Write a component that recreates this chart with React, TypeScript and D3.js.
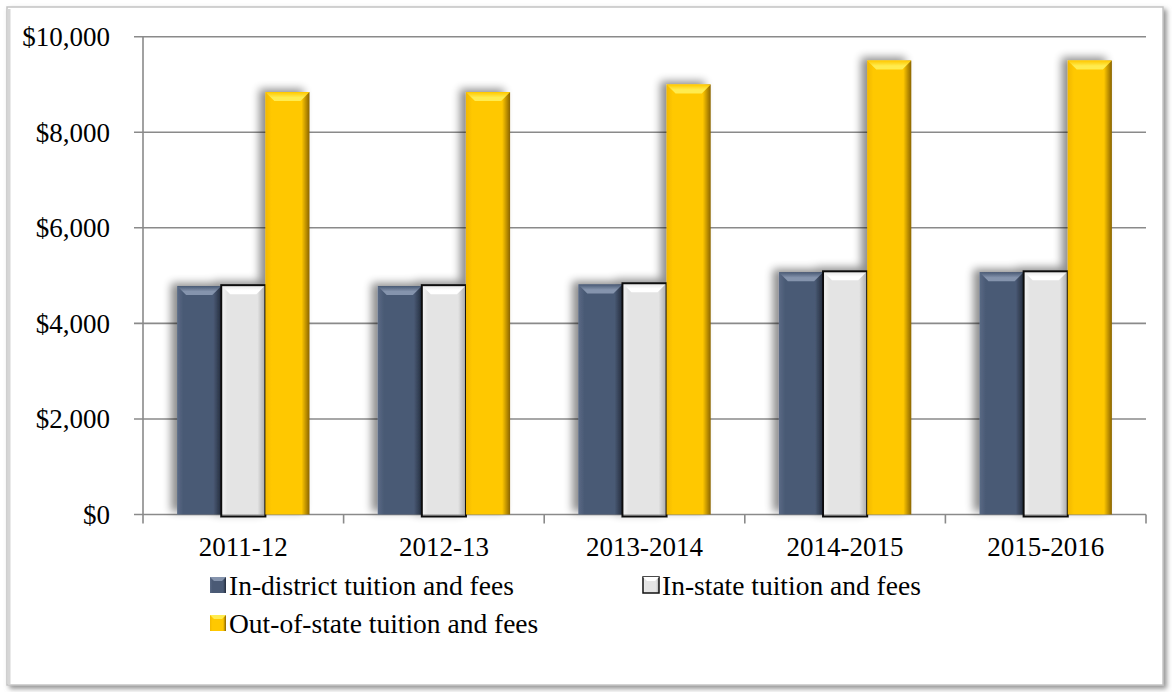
import React from "react";
import * as d3 from "d3";

const categories = ["2011-12", "2012-13", "2013-2014", "2014-2015", "2015-2016"];
const seriesNames = ["In-district tuition and fees", "In-state tuition and fees", "Out-of-state tuition and fees"];
const inDistrict = [4780, 4780, 4815, 5070, 5070];
const inState = [4800, 4800, 4840, 5090, 5090];
const outOfState = [8840, 8840, 9000, 9500, 9500];
const yTicks = [0, 2000, 4000, 6000, 8000, 10000];

const W = 1172;
const H = 692;
const plot = { left: 143, right: 1146, top: 36.7, bottom: 514.5 };

const styles = [
  { id: "dark", left: "#5a6a85", body: "#4a5a75", right: "#232c3c", top: "#8594ad", stroke: "none" },
  { id: "light", left: "#f6f6f6", body: "#e4e4e4", right: "#a8a8a8", top: "#ffffff", stroke: "#111" },
  { id: "gold", left: "#f2b800", body: "#ffc800", right: "#8a6400", top: "#ffec50", stroke: "none" },
];

export default function App() {
  const y = d3.scaleLinear().domain([0, 10000]).range([plot.bottom, plot.top]);
  const x0 = d3.scaleBand<string>().domain(categories).range([plot.left, plot.right]).padding(0);
  const groupW = x0.bandwidth() * 0.66;
  const x1 = d3.scaleBand<string>().domain(seriesNames).range([0, groupW]).padding(0);
  const seriesVals = [inDistrict, inState, outOfState];
  const font = "'Liberation Serif', 'Times New Roman', serif";
  const bev = 9;
  const fs = 27;

  const legendItems = [
    { name: seriesNames[0], x: 210, y: 585, s: styles[0] },
    { name: seriesNames[1], x: 643, y: 585, s: styles[1] },
    { name: seriesNames[2], x: 210, y: 623, s: styles[2] },
  ];

  return (
    <svg width={W} height={H} style={{ position: "absolute", left: 0, top: 0 }} fontFamily={font}>
      <defs>
        <filter id="frameShadow" x="-5%" y="-5%" width="110%" height="110%">
          <feDropShadow dx="3" dy="3" stdDeviation="2.5" floodColor="#777" floodOpacity="0.8" />
        </filter>
        <filter id="barShadow" x="-50%" y="-10%" width="200%" height="120%">
          <feGaussianBlur in="SourceAlpha" stdDeviation="4" />
          <feOffset dx="-6" dy="-3" result="b" />
          <feComponentTransfer>
            <feFuncA type="linear" slope="0.45" />
          </feComponentTransfer>
          <feMerge>
            <feMergeNode />
            <feMergeNode in="SourceGraphic" />
          </feMerge>
        </filter>
        {styles.map((s) => (
          <linearGradient key={s.id} id={`g-${s.id}`} x1="0" x2="1" y1="0" y2="0">
            <stop offset="0" stopColor={s.left} />
            <stop offset="0.14" stopColor={s.body} />
            <stop offset="0.82" stopColor={s.body} />
            <stop offset="1" stopColor={s.right} />
          </linearGradient>
        ))}
        {styles.map((s) => (
          <linearGradient key={s.id} id={`t-${s.id}`} x1="0" x2="0" y1="0" y2="1">
            <stop offset="0" stopColor={s.body} />
            <stop offset="0.6" stopColor={s.top} />
            <stop offset="1" stopColor={s.top} />
          </linearGradient>
        ))}
      </defs>
      <rect x={0} y={0} width={W} height={H} fill="#ffffff" />
      <rect x={7} y={7} width={1156} height={678} fill="#fff" stroke="#c4c4c4" strokeWidth={1.5} filter="url(#frameShadow)" />
      <line x1={9} x2={9} y1={9} y2={684} stroke="#d6d6d6" strokeWidth={3} />

      {yTicks.map((t) => (
        <line key={t} x1={plot.left - 9} x2={plot.right} y1={y(t)} y2={y(t)} stroke="#8a8a8a" strokeWidth={1.6} />
      ))}
      <line x1={plot.left} x2={plot.left} y1={plot.top} y2={plot.bottom} stroke="#8a8a8a" strokeWidth={1.6} />
      {categories.map((c) => (
        <line key={c} x1={x0(c)!} x2={x0(c)!} y1={plot.bottom} y2={plot.bottom + 9} stroke="#8a8a8a" strokeWidth={1.6} />
      ))}
      <line x1={plot.right} x2={plot.right} y1={plot.bottom} y2={plot.bottom + 9} stroke="#8a8a8a" strokeWidth={1.6} />

      {yTicks.map((t) => (
        <text key={t} x={110} y={y(t)} dy="0.35em" textAnchor="end" fontSize={fs} fill="#000">
          {d3.format("$,")(t)}
        </text>
      ))}

      {categories.map((c, ci) => {
        const gx = x0(c)! + (x0.bandwidth() - groupW) / 2;
        return (
          <g key={c} filter="url(#barShadow)">
            {seriesNames.map((sn, si) => {
              const v = seriesVals[si][ci];
              const bx = gx + x1(sn)!;
              const bw = x1.bandwidth();
              const by = y(v);
              const bh = y(0) - by;
              const s = styles[si];
              return (
                <g key={sn}>
                  <rect x={bx} y={by} width={bw} height={bh} fill={`url(#g-${s.id})`} />
                  <polygon
                    points={`${bx},${by} ${bx + bw},${by} ${bx + bw - bev},${by + bev} ${bx + bev},${by + bev}`}
                    fill={`url(#t-${s.id})`}
                  />
                  {s.stroke !== "none" && (
                    <rect x={bx} y={by} width={bw} height={bh + 2} fill="none" stroke={s.stroke} strokeWidth={2} />
                  )}
                </g>
              );
            })}
          </g>
        );
      })}

      {categories.map((c) => (
        <text key={c} x={x0(c)! + x0.bandwidth() / 2} y={547} dy="0.35em" textAnchor="middle" fontSize={fs} fill="#000">
          {c}
        </text>
      ))}

      {legendItems.map((l) => (
        <g key={l.name}>
          <rect x={l.x} y={l.y - 8} width={16} height={16} fill={`url(#g-${l.s.id})`} stroke={l.s.stroke === "none" ? "none" : "#111"} strokeWidth={1.5} />
          <polygon
            points={`${l.x},${l.y - 8} ${l.x + 16},${l.y - 8} ${l.x + 12},${l.y - 4} ${l.x + 4},${l.y - 4}`}
            fill={l.s.top}
          />
          <text x={l.x + 19} y={l.y} dy="0.35em" fontSize={fs + 0.5} fill="#000">
            {l.name}
          </text>
        </g>
      ))}
    </svg>
  );
}
